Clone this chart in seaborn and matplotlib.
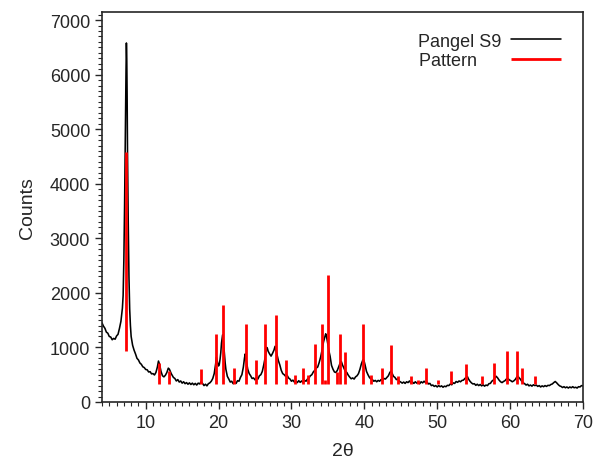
import numpy as np
import pandas as pd
import matplotlib
matplotlib.use("Agg")
import matplotlib.pyplot as plt
from matplotlib.ticker import MultipleLocator
import seaborn as sns

two_theta = [4.0, 4.2, 4.4, 4.6, 4.8, 5.0, 5.2, 5.4, 5.6, 5.8,
             6.0, 6.2, 6.4, 6.6, 6.8, 6.9, 7.0, 7.1, 7.2, 7.3,
             7.35, 7.4, 7.45, 7.5, 7.6, 7.7, 7.8, 7.9, 8.0, 8.2,
             8.4, 8.6, 8.8, 9.0, 9.2, 9.4, 9.6, 9.8, 10.0, 10.2,
             10.4, 10.6, 10.8, 11.0, 11.2, 11.4, 11.6, 11.75, 11.9, 12.1,
             12.3, 12.5, 12.7, 12.9, 13.1, 13.25, 13.5, 13.8, 14.0, 14.2,
             14.4, 14.6, 14.8, 15.0, 15.2, 15.4, 15.6, 15.8, 16.0, 16.2,
             16.4, 16.6, 16.8, 17.0, 17.2, 17.4, 17.6, 17.8, 18.0, 18.2,
             18.4, 18.6, 18.8, 19.0, 19.2, 19.4, 19.6, 19.7, 19.8, 19.9,
             20.0, 20.1, 20.2, 20.3, 20.4, 20.55, 20.7, 20.8, 20.9, 21.0,
             21.2, 21.4, 21.6, 21.8, 22.0, 22.2, 22.4, 22.6, 22.8, 23.0,
             23.2, 23.4, 23.55, 23.65, 23.8, 23.9, 24.0, 24.2, 24.4, 24.6,
             24.8, 25.0, 25.2, 25.4, 25.6, 25.8, 26.0, 26.2, 26.4, 26.6,
             26.7, 26.8, 27.0, 27.2, 27.4, 27.6, 27.75, 27.9, 28.0, 28.2,
             28.4, 28.6, 28.8, 29.0, 29.2, 29.4, 29.6, 29.8, 30.0, 30.2,
             30.4, 30.6, 30.8, 31.0, 31.2, 31.4, 31.6, 31.8, 32.0, 32.2,
             32.4, 32.6, 32.8, 33.0, 33.2, 33.4, 33.6, 33.8, 34.0, 34.2,
             34.4, 34.6, 34.7, 34.8, 34.9, 35.0, 35.1, 35.2, 35.3, 35.4,
             35.5, 35.7, 35.9, 36.1, 36.3, 36.5, 36.7, 36.85, 37.0, 37.2,
             37.4, 37.6, 37.8, 38.0, 38.2, 38.4, 38.6, 38.8, 39.0, 39.2,
             39.4, 39.6, 39.8, 39.95, 40.1, 40.3, 40.5, 40.7, 40.9, 41.1,
             41.3, 41.5, 41.7, 41.9, 42.1, 42.3, 42.5, 42.7, 42.9, 43.1,
             43.3, 43.5, 43.65, 43.8, 44.0, 44.2, 44.4, 44.6, 44.8, 45.0,
             45.2, 45.4, 45.6, 45.8, 46.0, 46.2, 46.4, 46.6, 46.8, 47.0,
             47.2, 47.4, 47.6, 47.8, 48.0, 48.2, 48.4, 48.6, 48.8, 49.0,
             49.2, 49.4, 49.6, 49.8, 50.0, 50.2, 50.4, 50.6, 50.8, 51.0,
             51.2, 51.4, 51.6, 51.8, 52.0, 52.2, 52.4, 52.6, 52.8, 53.0,
             53.2, 53.4, 53.6, 53.8, 54.0, 54.15, 54.3, 54.5, 54.7, 54.9,
             55.1, 55.3, 55.5, 55.7, 55.9, 56.1, 56.3, 56.5, 56.7, 56.9,
             57.1, 57.3, 57.5, 57.7, 57.9, 58.1, 58.3, 58.5, 58.7, 58.9,
             59.1, 59.3, 59.5, 59.7, 59.9, 60.1, 60.3, 60.5, 60.7, 60.9,
             61.05, 61.2, 61.4, 61.6, 61.8, 62.0, 62.2, 62.4, 62.6, 62.8,
             63.0, 63.2, 63.4, 63.6, 63.8, 64.0, 64.2, 64.4, 64.6, 64.8,
             65.0, 65.2, 65.4, 65.6, 65.8, 66.0, 66.2, 66.4, 66.6, 66.8,
             67.0, 67.2, 67.4, 67.6, 67.8, 68.0, 68.2, 68.4, 68.6, 68.8,
             69.0, 69.2, 69.4, 69.6, 69.8, 70.0]
counts = [1450, 1390, 1350, 1280, 1260, 1200, 1190, 1140, 1165, 1150,
          1210, 1240, 1350, 1480, 1720, 1950, 2600, 3600, 4900, 6100,
          6580, 6300, 5600, 4600, 3300, 2300, 1700, 1400, 1200, 1040,
          950, 880, 800, 770, 715, 690, 645, 630, 595, 590,
          550, 555, 515, 520, 495, 540, 640, 750, 690, 560,
          480, 460, 490, 540, 620, 600, 520, 450, 430, 385,
          410, 365, 385, 345, 370, 335, 355, 325, 350, 320,
          345, 315, 340, 310, 345, 330, 370, 340, 300, 325,
          295, 335, 350, 380, 430, 520, 700, 820, 760, 700,
          660, 690, 780, 900, 1080, 1230, 1050, 880, 720, 600,
          470, 420, 365, 380, 335, 365, 340, 390, 380, 450,
          500, 640, 800, 880, 760, 680, 600, 520, 480, 430,
          440, 405, 450, 420, 480, 500, 560, 680, 820, 1000,
          980, 930, 880, 840, 890, 950, 1020, 930, 880, 760,
          680, 580, 520, 500, 470, 490, 440, 420, 380, 400,
          365, 385, 355, 390, 360, 385, 355, 395, 380, 420,
          440, 480, 500, 550, 580, 620, 640, 720, 820, 950,
          1100, 1200, 1250, 1210, 1130, 1060, 980, 900, 840, 760,
          670, 600, 550, 540, 580, 650, 720, 740, 680, 620,
          560, 540, 490, 455, 425, 440, 420, 460, 480, 520,
          600, 700, 770, 760, 680, 560, 500, 450, 420, 410,
          380, 395, 370, 395, 380, 410, 395, 430, 420, 450,
          480, 540, 565, 530, 470, 450, 410, 420, 380, 365,
          345, 365, 340, 370, 355, 385, 350, 365, 340, 370,
          345, 360, 335, 370, 350, 380, 355, 365, 330, 340,
          300, 310, 285, 300, 275, 300, 280, 295, 270, 290,
          280, 305, 300, 330, 315, 350, 340, 375, 360, 385,
          370, 395, 400, 430, 450, 465, 420, 380, 350, 330,
          335, 305, 325, 300, 320, 295, 315, 290, 310, 300,
          335, 340, 380, 400, 440, 470, 440, 400, 370, 355,
          375, 390, 420, 430, 405, 390, 370, 385, 410, 450,
          475, 450, 420, 380, 350, 335, 310, 325, 295, 310,
          290, 315, 300, 310, 285, 300, 275, 295, 280, 300,
          285, 305, 300, 320, 330, 355, 375, 350, 320, 295,
          285, 265, 280, 260, 275, 255, 275, 260, 280, 260,
          270, 255, 280, 275, 300, 295]

# Reference pattern sticks
stick_pos = [7.25, 11.8, 13.2, 17.65, 19.66, 20.55, 22.1, 23.7, 25.2, 26.4, 27.86, 29.28,
             30.47, 31.6, 32.3, 33.25, 34.2, 34.6, 34.98, 36.2, 36.65, 37.33, 39.82, 40.9,
             42.45, 43.72, 44.6, 46.4, 47.3, 48.4, 50.15, 51.95, 53.9, 56.15, 57.85, 59.6,
             61.0, 61.7, 63.45]
stick_top = [4580, 720, 575, 600, 1250, 1780, 625, 1420, 760, 1420, 1600, 760,
             495, 620, 495, 1060, 1420, 400, 2330, 550, 1250, 915, 1420, 495,
             620, 1040, 485, 485, 405, 620, 405, 560, 700, 485, 710, 925,
             925, 625, 485]
stick_base = [940] + [330] * (len(stick_pos) - 1)

curve = pd.DataFrame({"two_theta": two_theta, "counts": counts})

sns.set_style("ticks")
plt.rcParams["font.family"] = ["Liberation Sans", "DejaVu Sans"]

fig = plt.figure(figsize=(5.93, 4.60), dpi=100)
ax = fig.add_axes([0.172, 0.124, 0.811, 0.848])

sns.lineplot(data=curve, x="two_theta", y="counts", color="black", linewidth=1.15,
             label="Pangel S9", ax=ax)
ax.vlines(stick_pos, stick_base, stick_top, color="#ff0000", linewidth=2.0,
          label="Pattern     ")

ax.set_xlim(4, 70)
ax.set_ylim(0, 7150)
ax.xaxis.set_major_locator(MultipleLocator(10))
ax.xaxis.set_minor_locator(MultipleLocator(1))
ax.yaxis.set_major_locator(MultipleLocator(1000))
ax.yaxis.set_minor_locator(MultipleLocator(100))
ax.tick_params(which="major", length=5, width=1, labelsize=13, direction="out")
ax.tick_params(which="minor", length=3, width=0.8, direction="out")
for s in ax.spines.values():
    s.set_linewidth(1.2)
    s.set_visible(True)

ax.set_xlabel("2θ", fontsize=14, labelpad=8)
ax.set_ylabel("Counts", fontsize=14, labelpad=10)

ax.legend(loc="upper right", bbox_to_anchor=(0.97, 0.965), frameon=False, fontsize=13,
          markerfirst=False, handlelength=2.8, labelspacing=0.15, handletextpad=0.5,
          borderaxespad=0)

fig.savefig("out.png", dpi=100)
